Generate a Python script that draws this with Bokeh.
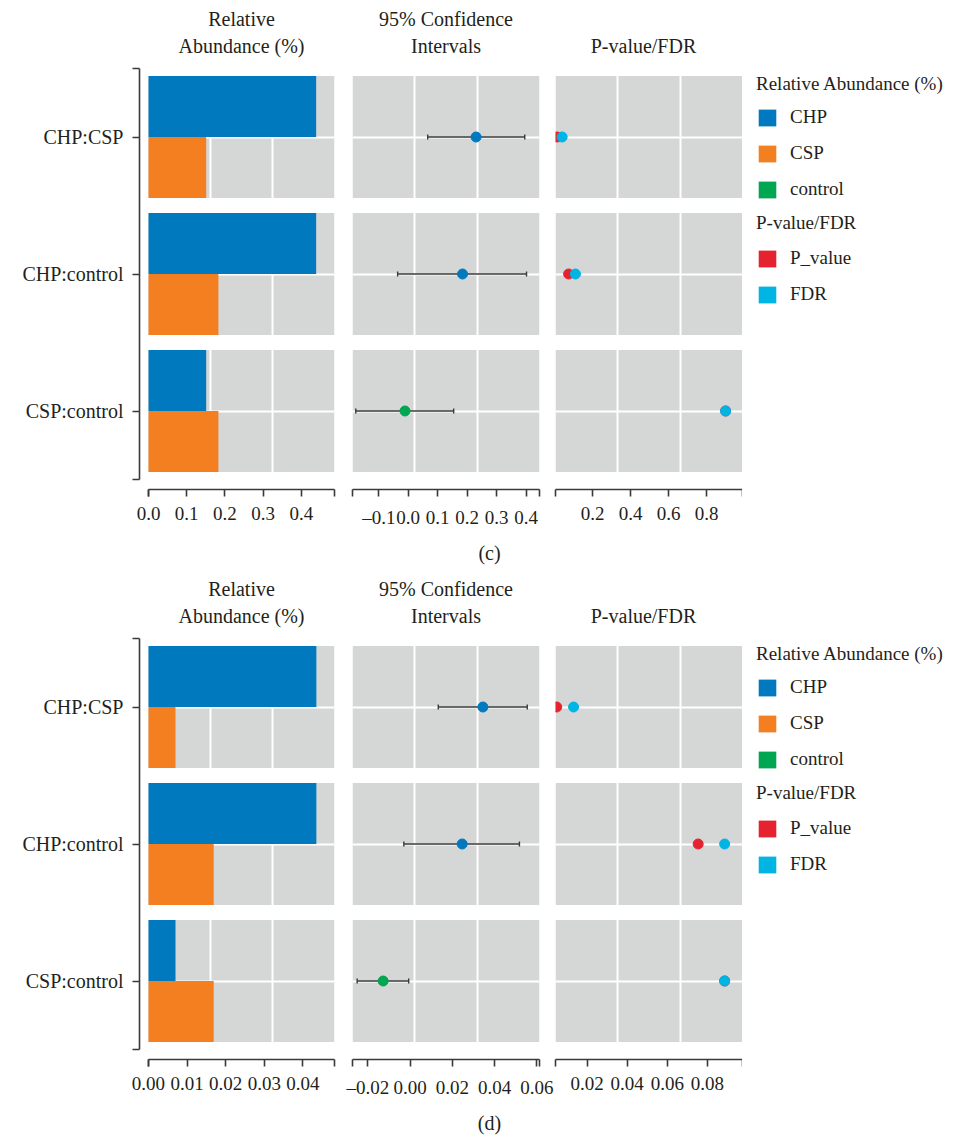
from bokeh.plotting import figure
from bokeh.models import (Range1d, FixedTicker, CustomJSTickFormatter, Whisker, TeeHead,
                          ColumnDataSource, Legend, LegendItem, Grid, Label, AllLabels)
from bokeh.layouts import column, row
from bokeh.transform import dodge
from bokeh.embed import file_html
from bokeh.resources import INLINE

# ---------------- data ----------------
comparisons = ["CHP:CSP", "CHP:control", "CSP:control"]
groups = ["CHP", "CSP", "control"]
group_colors = ["#0079be", "#f37f21", "#00a651"]
pv_labels = ["P_value", "FDR"]
pv_colors = ["#e52330", "#00b4e4"]
column_titles = [["Relative", "Abundance (%)"], ["95% Confidence", "Intervals"], ["P-value/FDR"]]
legend_titles = ["Relative Abundance (%)", "P-value/FDR"]

# panel (c)
c_abund_first = [0.439, 0.439, 0.151]
c_abund_second = [0.151, 0.183, 0.183]
c_effect = [0.230, 0.184, -0.011]
c_ci_low = [0.066, -0.036, -0.178]
c_ci_high = [0.395, 0.401, 0.154]
c_enriched = ["CHP", "CHP", "control"]
c_pvalue = [0.014, 0.074, 0.900]
c_fdr = [0.040, 0.110, 0.900]
c_ticks_abund = [0.0, 0.1, 0.2, 0.3, 0.4]
c_ticks_ci = [-0.1, 0.0, 0.1, 0.2, 0.3, 0.4]
c_ticks_p = [0.2, 0.4, 0.6, 0.8]

# panel (d)
d_abund_first = [0.0435, 0.0435, 0.0070]
d_abund_second = [0.0070, 0.0169, 0.0169]
d_effect = [0.0344, 0.0246, -0.0128]
d_ci_low = [0.0133, -0.0030, -0.0251]
d_ci_high = [0.0554, 0.0517, -0.0007]
d_enriched = ["CHP", "CHP", "control"]
d_pvalue = [0.0049, 0.0754, 0.0886]
d_fdr = [0.0133, 0.0886, 0.0886]
d_ticks_abund = [0.00, 0.01, 0.02, 0.03, 0.04]
d_ticks_ci = [-0.02, 0.00, 0.02, 0.04, 0.06]
d_ticks_p = [0.02, 0.04, 0.06, 0.08]

# ---------------- style / layout ----------------
FONT = "Liberation Serif"
FS = "20px"
FS_TICK = "19px"
FS_LEG = "19px"
TXT = "#231f20"
AX = "#3a3a3a"
PANEL = "#d5d6d6"
TOP, FRAME_H, BOTTOM = 8, 421, 46
FIG_H = TOP + FRAME_H + BOTTOM
HEAD_H = 52
TOTAL_W = 951
Y_LO, Y_HI = -0.5, 2.5
Y_PAD = 10 / 137.0
FACET_H = 0.89
BAR_H = FACET_H / 2
TITLE_X = [233, 437.5, 635]

ypos = [len(comparisons) - 1 - i for i in range(len(comparisons))]
labels_by_y = [comparisons[ypos.index(k)] for k in range(len(comparisons))]


def blank_fig(width, height, x1, y1):
    p = figure(width=width, height=height, x_range=Range1d(0, x1), y_range=Range1d(0, y1),
               x_axis_location=None, y_axis_location=None, title=None,
               min_border=0, outline_line_color=None, toolbar_location=None, tools="",
               output_backend="svg", background_fill_color="white", border_fill_color="white")
    p.xgrid.visible = False
    p.ygrid.visible = False
    return p


def xfmt(dec):
    return CustomJSTickFormatter(args=dict(d=dec), code="""
        const s = Math.abs(tick).toFixed(d);
        return (tick < -1e-12 ? '\\u2013' : '') + s;
    """)


def style_axis(ax, ticks, minor, fmt, standoff, bounds=None):
    ax.ticker = FixedTicker(ticks=ticks, minor_ticks=minor)
    ax.formatter = fmt
    ax.major_label_policy = AllLabels()
    ax.axis_line_color = AX
    ax.axis_line_width = 1.6
    for k in ("major", "minor"):
        setattr(ax, k + "_tick_line_color", AX)
        setattr(ax, k + "_tick_line_width", 1.6)
        setattr(ax, k + "_tick_out", 7)
        setattr(ax, k + "_tick_in", 0)
    ax.major_label_text_font = FONT
    ax.major_label_text_font_size = FS_TICK
    ax.major_label_text_color = TXT
    ax.major_label_standoff = standoff
    if bounds is not None:
        ax.bounds = bounds


def base_fig(width, mb_left, mb_right, x0, x1, left_axis=False):
    p = figure(width=width, height=FIG_H, x_range=Range1d(x0, x1),
               y_range=Range1d(Y_LO - Y_PAD, Y_HI), title=None,
               y_axis_location="left" if left_axis else None,
               output_backend="svg", toolbar_location=None, tools="",
               min_border_left=mb_left, min_border_right=mb_right,
               min_border_top=TOP, min_border_bottom=BOTTOM,
               outline_line_color=None, background_fill_color="white",
               border_fill_color="white")
    p.xgrid.visible = False
    p.ygrid.visible = False
    return p


def add_panel_bg(p, lo, hi):
    w = hi - lo
    p.add_layout(Grid(dimension=0, ticker=FixedTicker(ticks=[lo + w / 3, lo + 2 * w / 3]),
                      grid_line_color="white", grid_line_width=2))
    p.add_layout(Grid(dimension=1, ticker=FixedTicker(ticks=ypos),
                      grid_line_color="white", grid_line_width=2))
    p.hbar(y=ypos, left=lo, right=hi, height=FACET_H, fill_color=PANEL,
           line_color=None, level="image")


def header():
    h = blank_fig(TOTAL_W, HEAD_H, TOTAL_W, HEAD_H)
    line_y = [41.5, 15]
    for cx, lines in zip(TITLE_X, column_titles):
        offs = len(line_y) - len(lines)
        for j, t in enumerate(lines):
            h.add_layout(Label(x=cx, y=line_y[offs + j], text=t, text_align="center",
                               text_baseline="middle", text_font=FONT, text_font_size=FS,
                               text_color=TXT))
    return h


def make_block(first, second, effect, low, high, enriched, pvals, fdrs,
               t_abund, t_ci, t_p, dec, abund_view, ci_view, p_view):
    # relative abundance
    a0, a1 = abund_view
    pb = base_fig(335, 131, 9, a0, a1, left_axis=True)
    add_panel_bg(pb, 0, a1)
    src = ColumnDataSource(dict(y=ypos, a1=first, a2=second))
    pb.hbar(y=dodge("y", BAR_H / 2, range=pb.y_range), left=0, right="a1", height=BAR_H,
            fill_color=group_colors[0], line_color=None, source=src)
    pb.hbar(y=dodge("y", -BAR_H / 2, range=pb.y_range), left=0, right="a2", height=BAR_H,
            fill_color=group_colors[1], line_color=None, source=src)
    style_axis(pb.xaxis[0], t_abund, [0, a1], xfmt(dec), 10, bounds=(0, a1))
    style_axis(pb.yaxis[0], ypos, [Y_LO, Y_HI],
               CustomJSTickFormatter(args=dict(labels=labels_by_y),
                                     code="return labels[Math.round(tick)];"),
               9, bounds=(Y_LO, Y_HI))
    pb.yaxis[0].major_label_text_font_size = FS

    # confidence intervals
    c0, c1 = ci_view
    pc = base_fig(211, 9, 15, c0, c1)
    add_panel_bg(pc, c0, c1)
    csrc = ColumnDataSource(dict(y=ypos, lo=low, hi=high, eff=effect,
                                 color=[group_colors[groups.index(g)] for g in enriched]))
    pc.add_layout(Whisker(source=csrc, base="y", lower="lo", upper="hi", dimension="width",
                          line_color=AX, line_width=1.4,
                          upper_head=TeeHead(size=5, line_color=AX, line_width=1.4),
                          lower_head=TeeHead(size=5, line_color=AX, line_width=1.4)))
    pc.scatter("eff", "y", source=csrc, size=10, color="color")
    style_axis(pc.xaxis[0], t_ci, [c0, c1], xfmt(dec), 10)

    # p-value / FDR
    q0, q1 = p_view
    pp = base_fig(188, 1, 0, q0, q1)
    add_panel_bg(pp, q0, q1)
    psrc = ColumnDataSource(dict(y=ypos, pv=pvals, fdr=fdrs))
    pp.scatter("pv", "y", source=psrc, size=10, color=pv_colors[0])
    pp.scatter("fdr", "y", source=psrc, size=10, color=pv_colors[1])
    style_axis(pp.xaxis[0], t_p, [q0, q1], xfmt(dec), 10)

    # legend (placed in its own blank figure)
    lg = figure(width=217, height=FIG_H, x_range=Range1d(0, 1), y_range=Range1d(0, 1),
                x_axis_location=None, y_axis_location=None, title=None,
                min_border_left=0, min_border_right=0, min_border_top=TOP,
                min_border_bottom=BOTTOM, outline_line_color=None, toolbar_location=None,
                tools="", output_backend="svg", background_fill_color="white",
                border_fill_color="white")
    lg.xgrid.visible = False
    lg.ygrid.visible = False

    def mk_legend(names, colors, title, loc, tstand):
        items = []
        for n, col in zip(names, colors):
            # swatch renderer kept outside the visible range; only its legend key shows
            r = lg.quad(left=[2], right=[3], top=[3], bottom=[2], fill_color=col, line_color=None)
            items.append(LegendItem(label=n, renderers=[r]))
        leg = Legend(items=items, title=title, location=loc,
                     label_text_font=FONT, label_text_font_size=FS_LEG, label_text_color=TXT,
                     title_text_font=FONT, title_text_font_size=FS_LEG,
                     title_text_font_style="normal", title_text_color=TXT,
                     title_standoff=tstand, glyph_width=22, glyph_height=21,
                     label_standoff=12, label_height=24, spacing=12,
                     padding=0, margin=0, border_line_color=None,
                     background_fill_alpha=0)
        lg.add_layout(leg)

    mk_legend(groups, group_colors, legend_titles[0], (14, 288), 10)
    mk_legend(pv_labels, pv_colors, legend_titles[1], (14, 183), 12)

    return row(pb, pc, pp, lg)


def caption(text, h, ty):
    cp = blank_fig(TOTAL_W, h, TOTAL_W, h)
    cp.add_layout(Label(x=481, y=h - ty, text=text, text_align="center",
                        text_baseline="middle", text_font=FONT, text_font_size=FS,
                        text_color=TXT))
    return cp


block_c = make_block(c_abund_first, c_abund_second, c_effect, c_ci_low, c_ci_high,
                     c_enriched, c_pvalue, c_fdr, c_ticks_abund, c_ticks_ci, c_ticks_p, 1,
                     (-0.0236, 0.487), (-0.189, 0.445), (0.005, 0.989))
block_d = make_block(d_abund_first, d_abund_second, d_effect, d_ci_low, d_ci_high,
                     d_enriched, d_pvalue, d_fdr, d_ticks_abund, d_ticks_ci, d_ticks_p, 2,
                     (-0.00233, 0.0482), (-0.0273, 0.0612), (0.0043, 0.0975))

layout = column(header(), block_c, caption("(c)", 43, 17),
                header(), block_d, caption("(d)", 33, 17),
                margin=(8, 0, 0, 8))

open("out.html", "w", encoding="utf-8").write(file_html(layout, INLINE))
